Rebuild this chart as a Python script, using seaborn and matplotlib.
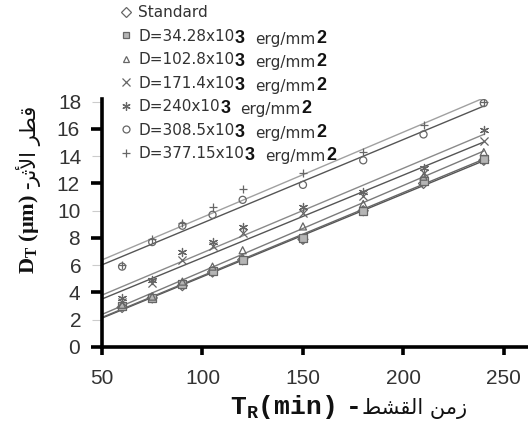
import numpy as np
import pandas as pd
import matplotlib
matplotlib.use("Agg")
import matplotlib.pyplot as plt
from matplotlib.lines import Line2D
from matplotlib.ticker import FixedLocator, FixedFormatter
from matplotlib.transforms import IdentityTransform
from matplotlib.font_manager import FontProperties
import seaborn as sns

# ---------------- data ----------------
time_min = [60, 75, 90, 105, 120, 150, 180, 210, 240]
series_names = ["Standard", "34.28", "102.8", "171.4", "240", "308.5", "377.15"]
legend_main = ["Standard", "D=34.28x10", "D=102.8x10", "D=171.4x10",
               "D=240x10", "D=308.5x10", "D=377.15x10"]
legend_exp = ["", "3", "3", "3", "3", "3", "3"]
legend_unit = ["", "erg/mm", "erg/mm", "erg/mm", "erg/mm", "erg/mm", "erg/mm"]
legend_unit_exp = ["", "2", "2", "2", "2", "2", "2"]

d_standard = [2.9, 3.6, 4.5, 5.5, 6.4, 7.9, 10.0, 12.0, 13.7]
d_34 = [3.0, 3.6, 4.6, 5.6, 6.4, 8.0, 10.0, 12.2, 13.8]
d_102 = [3.1, 3.7, 4.8, 5.9, 7.1, 8.85, 10.5, 12.5, 14.3]
d_171 = [3.3, 4.7, 6.4, 7.4, 8.4, 9.8, 11.1, 12.8, 15.1]
d_240 = [3.6, 4.9, 7.0, 7.7, 8.8, 10.3, 11.4, 13.1, 15.9]
d_308 = [5.9, 7.7, 8.9, 9.7, 10.8, 11.9, 13.7, 15.6, 17.9]
d_377 = [6.0, 7.9, 9.1, 10.3, 11.6, 12.8, 14.3, 16.3, 18.0]
all_series = [d_standard, d_34, d_102, d_171, d_240, d_308, d_377]

x_ticks = [50, 100, 150, 200, 250]
y_major = [0, 4, 8, 12, 16]
y_minor = [2, 6, 10, 14, 18]

df = pd.DataFrame({
    "time": np.tile(time_min, len(series_names)),
    "diam": np.concatenate(all_series),
    "series": np.repeat(series_names, len(time_min)),
})

# ---------------- style ----------------
sns.set_theme(style="white")
plt.rcParams["font.family"] = ["Liberation Sans", "DejaVu Sans"]

fig = plt.figure(figsize=(5.28, 4.26), dpi=100)
ax = fig.add_axes([102 / 528, 1 - 347 / 426, (528 - 102) / 528, (347 - 99) / 426])

markers = ["D", "s", "^", "x", (6, 2, 0), "o", "+"]
filled = [True, True, True, False, False, True, False]
line_colors = ["#555555", "#666666", "#7a7a7a", "#555555", "#8a8a8a", "#555555", "#a0a0a0"]
mcol = "#666666"

for name, m, f, lc in zip(series_names, markers, filled, line_colors):
    sub = df[df["series"] == name]
    if f:
        face = "#b5b5b5" if m == "s" else "none"
        sns.scatterplot(x=sub["time"], y=sub["diam"], marker=m, s=26,
                        facecolors=face, edgecolor=mcol, linewidth=0.9,
                        ax=ax, legend=False, zorder=3)
    else:
        sns.scatterplot(x=sub["time"], y=sub["diam"], marker=m, s=34,
                        color=mcol, linewidth=0.9, ax=ax, legend=False, zorder=3)
    coef = np.polyfit(sub["time"], sub["diam"], 1)
    xs = np.array([50.0, 240.0])
    sns.lineplot(x=xs, y=np.polyval(coef, xs), color=lc, linewidth=1.0, ax=ax,
                 zorder=2)

ax.set_xlim(50, 262)
ax.set_ylim(0, 18.2)
for s in ["top", "right"]:
    ax.spines[s].set_visible(False)
for s in ["left", "bottom"]:
    ax.spines[s].set_linewidth(2.6)
    ax.spines[s].set_color("black")
ax.set_xlabel("")
ax.set_ylabel("")

ax.set_xticks(x_ticks)
ax.set_xticklabels([str(v) for v in x_ticks])
ax.yaxis.set_major_locator(FixedLocator(y_major))
ax.yaxis.set_major_formatter(FixedFormatter([str(v) for v in y_major]))
ax.yaxis.set_minor_locator(FixedLocator(y_minor))
ax.yaxis.set_minor_formatter(FixedFormatter([str(v) for v in y_minor]))
ax.tick_params(axis="x", which="major", direction="out", length=6, width=2.6,
               color="black", labelsize=15, labelcolor="#333333", pad=10,
               bottom=True)
ax.tick_params(axis="y", which="major", direction="out", length=8, width=2.6,
               color="black", labelsize=15, labelcolor="#333333", pad=8,
               left=True)
ax.tick_params(axis="y", which="minor", direction="out", length=7, width=0.8,
               color="#cccccc", labelsize=15, labelcolor="#333333", pad=8,
               left=True)

# ---------------- legend ----------------
handles = []
for m, f in zip(markers, filled):
    if f:
        face = "#b5b5b5" if m == "s" else "none"
        handles.append(Line2D([], [], linestyle="none", marker=m, markersize=5,
                              markerfacecolor=face, markeredgecolor=mcol,
                              markeredgewidth=0.9))
    else:
        handles.append(Line2D([], [], linestyle="none", marker=m, markersize=6,
                              color=mcol, markeredgewidth=0.9))
leg_prop = FontProperties(family="DejaVu Sans", size=11)
leg = fig.legend(handles, legend_main, loc="upper left",
                 bbox_to_anchor=(120 / 528, 1 - 5 / 426), frameon=False,
                 prop=leg_prop, handlelength=0.8, handletextpad=0.4,
                 labelspacing=0.56, borderpad=0, borderaxespad=0,
                 labelcolor="#333333")

fig.canvas.draw()
rend = fig.canvas.get_renderer()
sup_family = ["Liberation Sans Narrow", "Liberation Sans"]
for t, e, u, ue in zip(leg.get_texts(), legend_exp, legend_unit, legend_unit_exp):
    if not e:
        continue
    bb = t.get_window_extent(rend)
    _, _, desc = rend.get_text_width_height_descent(t.get_text(), leg_prop, ismath=False)
    base = bb.y0 + desc
    st = fig.text(bb.x1 + 0.5, base + 1, e, transform=IdentityTransform(),
                  family=sup_family, weight="bold", fontsize=13, ha="left",
                  va="baseline", color="#111111")
    sb = st.get_window_extent(rend)
    ut = fig.text(sb.x1 + 10, base, u, transform=IdentityTransform(),
                  fontproperties=leg_prop, ha="left", va="baseline", color="#333333")
    ub = ut.get_window_extent(rend)
    fig.text(ub.x1 + 1, base + 1, ue, transform=IdentityTransform(),
             family=sup_family, weight="bold", fontsize=13, ha="left",
             va="baseline", color="#111111")

# ---------------- axis labels ----------------
# x label: "T_R (min) - زمن القشط" (Arabic given in shaped visual order)
arabic_x = "\uFEC2\uFEB8\uFED8\uFEDF\uFE8D \uFEE6\uFEE3\uFEAF"
fig.text(230 / 528, 1 - 414 / 426, r"$\mathregular{T_R}$(min)",
         family=["Liberation Mono", "DejaVu Sans"], weight="bold", fontsize=19,
         ha="left", va="baseline", color="#111111")
fig.text(354 / 528, 1 - 414 / 426, "-",
         family=["Liberation Mono", "DejaVu Sans"], weight="bold", fontsize=19,
         ha="center", va="baseline", color="#111111")
fig.text(467 / 528, 1 - 414 / 426, arabic_x, family=["DejaVu Sans"],
         fontsize=15, ha="right", va="baseline", color="#111111")

# y label: "D_T (µm) - قطر الأثر"
arabic_y = "\uFEAE\uFE9B\uFEF7\uFE8D \uFEAE\uFEC4\uFED7"
fig.text(29 / 528, 1 - 274 / 426, r"$\mathregular{D_T}$ (µm) -",
         family=["Liberation Serif", "DejaVu Sans"], weight="bold", fontsize=16,
         rotation=90, ha="center", va="bottom", color="#111111")
fig.text(29 / 528, 1 - 106 / 426, arabic_y, family=["DejaVu Sans"],
         fontsize=15, rotation=90, ha="center", va="top", color="#111111")

fig.savefig("out.png", dpi=100)
